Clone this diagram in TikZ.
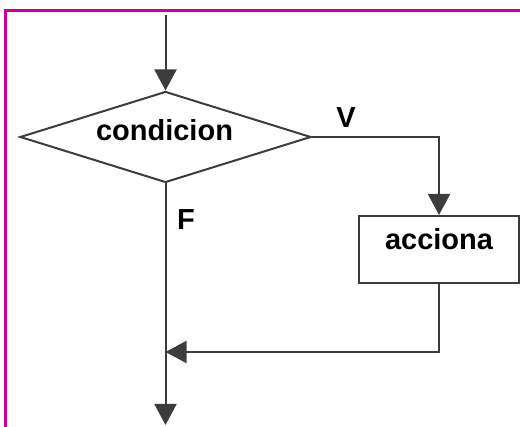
\documentclass[tikz,border=0pt]{standalone}
\usepackage{fontspec}
\setmainfont{Liberation Sans}
\usepackage{xcolor}
\usetikzlibrary{shapes.geometric,arrows.meta}

\definecolor{frame}{RGB}{204,0,153}
\definecolor{ink}{RGB}{60,60,60}

\begin{document}
\begin{tikzpicture}[x=1pt,y=1pt,>={Triangle[length=21pt,width=22pt]},color=ink,line width=2pt,
    txt/.style={text=black,font=\bfseries\fontsize{29}{29}\selectfont},
    decision/.style={diamond,draw,minimum width=291pt,minimum height=91pt,inner sep=0pt},
    block/.style={rectangle,draw,txt,minimum width=160pt,minimum height=67pt,inner sep=0pt,text height=20pt,text depth=20pt}]

            \useasboundingbox (0,0) rectangle (520,427);

            % frame on the left and top
            \draw[frame,line width=3pt] (5.5,0) -- (5.5,416.5) -- (520,416.5);

            \node[decision] (cond) at (165.5,290) {};
            \node[txt,anchor=base] (condtxt) at (164.5,286) {condicion};
            \node[block] (acc) at (439,177.5) {acciona};
            \node[txt,anchor=base] (v) at (346,299) {V};
            \node[txt,anchor=base] (f) at (186,197) {F};

            \coordinate (in) at (165.5,412);
            \coordinate (join) at (165.5,75);
            \coordinate (out) at (165.5,2);

            \draw[->] (in) -- (cond.north);
            \draw[->] (cond.east) -| (acc.north);
            \draw[->] (cond.south) -- (out);
            \draw[->] (acc.south) |- (join);

        \end{tikzpicture}
\end{document}
